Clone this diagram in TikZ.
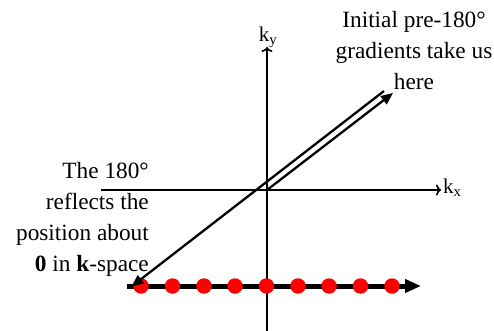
\documentclass[tikz,border=0pt]{standalone}
\usepackage{fontspec}
\setmainfont{Liberation Serif}
\usetikzlibrary{arrows.meta}
\begin{document}
\begin{tikzpicture}[x=1pt,y=-1pt,
  axisline/.style={line width=1.6pt,-{To[length=5pt,width=11pt,line width=1.6pt]}},
  diag/.style={line width=2.3pt,-{Triangle[length=12pt,width=10pt]}},
  kline/.style={line width=5pt,-{Triangle[length=16pt,width=13pt]}},
  dot/.style={circle,fill=red,inner sep=0pt,minimum size=15.5pt},
  lbl/.style={font=\fontsize{23.3}{31}\selectfont,inner sep=0pt},
  axlbl/.style={font=\fontsize{21}{24}\selectfont,inner sep=0pt}]
\useasboundingbox (0,0) rectangle (494,331);
% axes
\coordinate (xs) at (101,190);
\coordinate (xe) at (441,190);
\coordinate (ys) at (267,331);
\coordinate (ye) at (267,47);
\coordinate (o) at (267,190);
\draw[axisline] (xs) -- (xe);
\draw[axisline] (ys) -- (ye);
\node[axlbl,anchor=west] (kx) at (443,188) {k\textsubscript{x}};
\node[axlbl,anchor=south] (ky) at (268,48) {k\textsubscript{y}};
% k-space line and samples
\coordinate (ls) at (127,286);
\coordinate (le) at (421,286);
\draw[kline] (ls) -- (le);
\foreach \i/\x in {1/141,2/172.5,3/204,4/235,5/266.5,6/298,7/329,8/360.5,9/392}{
  \node[dot] (d\i) at (\x,286) {};
}
% diagonals
\coordinate (a1) at (393,93);
\draw[diag] (o) -- (a1);
\coordinate (b0) at (384,91);
\coordinate (b1) at (131.5,286.5);
\draw[diag] (b0) -- (b1);
% texts
\node[lbl,align=center] (top) at (414,51) {Initial pre-180°\\gradients take us\\here};
\node[lbl,align=right,anchor=east] (left) at (149,219) {The 180°\\reflects the\\position about\\\textbf{0} in \textbf{k}-space};
\end{tikzpicture}
\end{document}
